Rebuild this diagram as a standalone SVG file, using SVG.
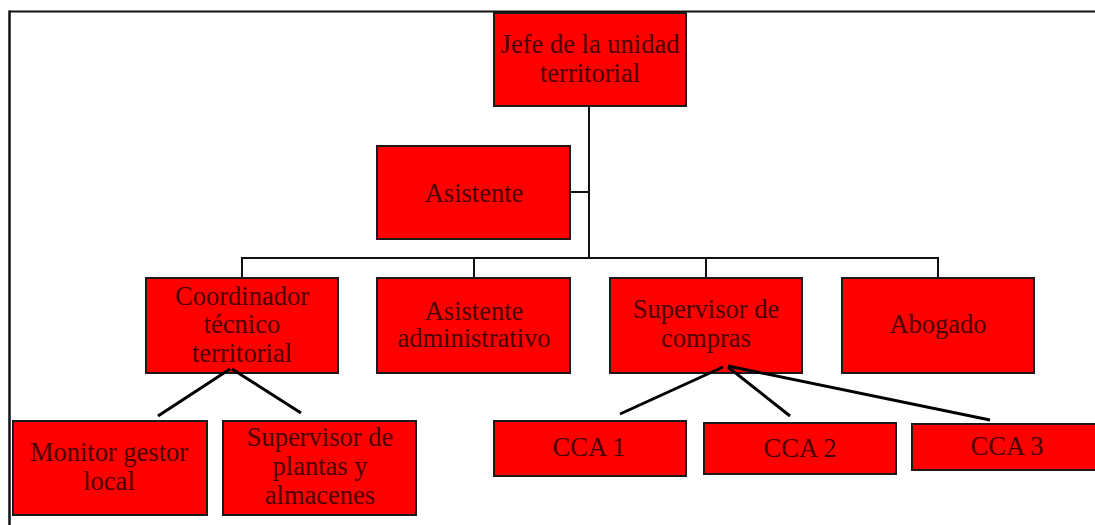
<svg xmlns="http://www.w3.org/2000/svg" width="1095" height="525" viewBox="0 0 1095 525">
<style>
.box{fill:#ff0000;stroke:#1a1a1a;stroke-width:2}
.t{font-family:"Liberation Serif","Times New Roman",serif;font-size:26.5px;fill:#4a0000;text-anchor:middle}
.c{stroke:#111;stroke-width:2;fill:none}
.d{stroke:#000;stroke-width:3;fill:none}
</style>
<rect width="1095" height="525" fill="#ffffff"/>
<g id="frame">
<line x1="9" y1="11.5" x2="1095" y2="11.5" stroke="#111" stroke-width="2"/>
<line x1="9.5" y1="10.5" x2="9.5" y2="525" stroke="#111" stroke-width="2.5"/>
</g>
<g id="jefe"><rect class="box" x="494" y="13" width="192" height="93"/><text class="t" x="590" y="53">Jefe de la unidad</text><text class="t" x="590" y="82">territorial</text></g>
<g id="asistente"><rect class="box" x="377" y="146" width="193" height="93"/><text class="t" x="474" y="202">Asistente</text></g>
<g id="coordinador"><rect class="box" x="146" y="278" width="192" height="95"/><text class="t" x="242" y="305">Coordinador</text><text class="t" x="242" y="333">técnico</text><text class="t" x="242" y="362">territorial</text></g>
<g id="asistente-admin"><rect class="box" x="377" y="278" width="193" height="95"/><text class="t" x="474" y="320">Asistente</text><text class="t" x="474" y="347">administrativo</text></g>
<g id="supervisor-compras"><rect class="box" x="610" y="278" width="192" height="95"/><text class="t" x="706" y="318">Supervisor de</text><text class="t" x="706" y="347">compras</text></g>
<g id="abogado"><rect class="box" x="842" y="278" width="192" height="95"/><text class="t" x="938" y="333">Abogado</text></g>
<g id="monitor"><rect class="box" x="13" y="421" width="194" height="94"/><text class="t" x="109" y="461">Monitor gestor</text><text class="t" x="109" y="490">local</text></g>
<g id="supervisor-plantas"><rect class="box" x="223" y="421" width="193" height="94"/><text class="t" x="320" y="446">Supervisor de</text><text class="t" x="320" y="475">plantas y</text><text class="t" x="320" y="504">almacenes</text></g>
<g id="cca1"><rect class="box" x="494" y="421" width="192" height="55"/><text class="t" x="589" y="456">CCA 1</text></g>
<g id="cca2"><rect class="box" x="704" y="423" width="192" height="51"/><text class="t" x="800" y="457">CCA 2</text></g>
<g id="cca3"><rect class="box" x="912" y="424" width="190" height="46"/><text class="t" x="1007" y="455">CCA 3</text></g>
<g id="connectors">
<polyline class="c" points="589,107 589,258"/>
<line class="c" x1="571" y1="192" x2="589" y2="192"/>
<line class="c" x1="242" y1="258" x2="938" y2="258"/>
<line class="c" x1="242" y1="257" x2="242" y2="277"/>
<line class="c" x1="474" y1="258" x2="474" y2="277"/>
<line class="c" x1="706" y1="258" x2="706" y2="277"/>
<line class="c" x1="938" y1="257" x2="938" y2="277"/>
<line class="d" x1="230" y1="369" x2="158" y2="416"/>
<line class="d" x1="232" y1="369" x2="301" y2="413"/>
<line class="d" x1="723" y1="367" x2="620" y2="414"/>
<line class="d" x1="728" y1="367" x2="790" y2="416"/>
<line class="d" x1="728" y1="366" x2="990" y2="420"/>
</g>
</svg>
